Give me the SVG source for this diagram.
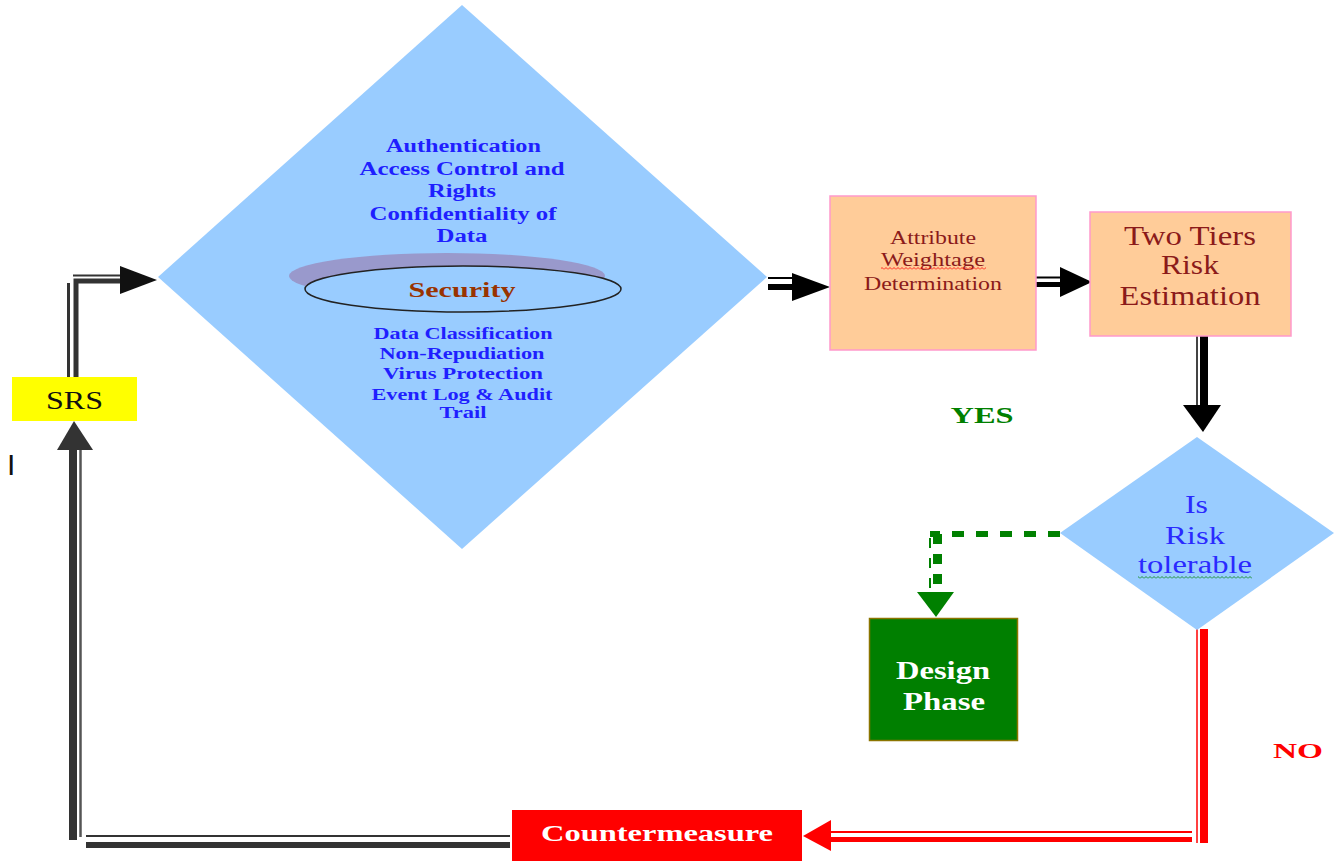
<svg xmlns="http://www.w3.org/2000/svg" width="1335" height="861" viewBox="0 0 1335 861">
<defs>
<style>
.t{font-family:"Liberation Serif","Times New Roman",serif;text-anchor:middle}
.b{font-weight:bold}
.blue{fill:#1f1fff}
.dred{fill:#8b1a1a}
.ln{fill:none}
</style>
<pattern id="wr" width="4" height="3" patternUnits="userSpaceOnUse"><path d="M0 2.5 L2 0.5 L4 2.5" fill="none" stroke="#ff0000" stroke-width="0.8"/></pattern>
<pattern id="wg" width="4" height="3" patternUnits="userSpaceOnUse"><path d="M0 2.5 L2 0.5 L4 2.5" fill="none" stroke="#008000" stroke-width="0.8"/></pattern>
</defs>
<rect width="1335" height="861" fill="#ffffff"/>

<g id="connectors">
  <!-- SRS -> Security -->
  <path class="ln" d="M68.5 377 V283" stroke="#333" stroke-width="3"/>
  <path class="ln" d="M76 377 V281 H122" stroke="#333" stroke-width="5"/>
  <path class="ln" d="M73 275.5 H122" stroke="#333" stroke-width="2"/>
  <polygon points="120,266 157,280 120,294" fill="#111"/>
  <!-- Security -> Attribute -->
  <path class="ln" d="M768 278 H795" stroke="#000" stroke-width="2"/>
  <path class="ln" d="M768 287 H795" stroke="#000" stroke-width="6"/>
  <polygon points="792,273 830,287 792,301" fill="#000"/>
  <!-- Attribute -> Two Tiers -->
  <path class="ln" d="M1036 277.5 H1062" stroke="#000" stroke-width="2"/>
  <path class="ln" d="M1036 284.5 H1062" stroke="#000" stroke-width="5"/>
  <polygon points="1060,267 1092,282 1060,297" fill="#000"/>
  <!-- Two Tiers -> Is Risk -->
  <path class="ln" d="M1197 336 V406" stroke="#444" stroke-width="2"/>
  <path class="ln" d="M1204 336 V406" stroke="#000" stroke-width="8"/>
  <polygon points="1183,405 1221,405 1203,432" fill="#000"/>
  <!-- YES: Is Risk -> Design Phase -->
  <path class="ln" d="M1060 534 H930" stroke="#008000" stroke-width="6" stroke-dasharray="12 12"/>
  <path class="ln" d="M930 538 V592" stroke="#008000" stroke-width="2" stroke-dasharray="10 10"/>
  <path class="ln" d="M937.5 534 V592" stroke="#008000" stroke-width="9" stroke-dasharray="10 10"/>
  <polygon points="917,592 954,592 936,617" fill="#008000"/>
  <!-- NO: Is Risk -> Countermeasure -->
  <path class="ln" d="M1197 629 V843" stroke="#ff4040" stroke-width="2"/>
  <path class="ln" d="M1204 629 V843" stroke="#ff0000" stroke-width="8"/>
  <path class="ln" d="M1192 832 H830" stroke="#ff0000" stroke-width="2"/>
  <path class="ln" d="M1192 839.5 H830" stroke="#ff0000" stroke-width="5"/>
  <polygon points="831,820 803,836 831,851" fill="#ff0000"/>
  <!-- Countermeasure -> SRS -->
  <path class="ln" d="M510 845 H86" stroke="#333" stroke-width="6"/>
  <path class="ln" d="M510 836 H86" stroke="#333" stroke-width="2"/>
  <path class="ln" d="M73 840 V449" stroke="#333" stroke-width="8"/>
  <path class="ln" d="M80.5 837 V449" stroke="#555" stroke-width="2.5"/>
  <polygon points="57,450 74,421 93,450" fill="#333"/>
</g>

<g id="srs">
  <rect x="12" y="377" width="125" height="44" fill="#ffff00"/>
  <text class="t" x="74.5" y="409" font-size="26" textLength="57" lengthAdjust="spacingAndGlyphs" fill="#111">SRS</text>
</g>

<g id="security">
  <polygon points="462,5 767,277 462,549 158,277" fill="#99ccff"/>
  <g class="t b blue" font-size="18">
    <text x="463.5" y="152" textLength="155" lengthAdjust="spacingAndGlyphs">Authentication</text>
    <text x="462" y="175" textLength="205" lengthAdjust="spacingAndGlyphs">Access Control and</text>
    <text x="462" y="197" textLength="68" lengthAdjust="spacingAndGlyphs">Rights</text>
    <text x="463" y="220" textLength="187" lengthAdjust="spacingAndGlyphs">Confidentiality of</text>
    <text x="462" y="242" textLength="51" lengthAdjust="spacingAndGlyphs">Data</text>
  </g>
  <ellipse cx="447" cy="276" rx="158" ry="23" fill="#9999cc"/>
  <ellipse cx="463" cy="289" rx="158" ry="23" fill="#99ccff" stroke="#222" stroke-width="1.5"/>
  <text class="t b" x="462" y="297" font-size="22" fill="#993300" textLength="107" lengthAdjust="spacingAndGlyphs">Security</text>
  <g class="t b blue" font-size="17">
    <text x="463" y="339" textLength="179" lengthAdjust="spacingAndGlyphs">Data Classification</text>
    <text x="462" y="359" textLength="165" lengthAdjust="spacingAndGlyphs">Non-Repudiation</text>
    <text x="463" y="379" textLength="160" lengthAdjust="spacingAndGlyphs">Virus Protection</text>
    <text x="462" y="400" textLength="181" lengthAdjust="spacingAndGlyphs">Event Log &amp; Audit</text>
    <text x="463" y="418" textLength="47" lengthAdjust="spacingAndGlyphs">Trail</text>
  </g>
</g>

<g id="attribute">
  <rect x="830" y="196" width="206" height="154" fill="#ffcc99" stroke="#ff99cc" stroke-width="1.5"/>
  <g class="t dred" font-size="19">
    <text x="933" y="244" textLength="86" lengthAdjust="spacingAndGlyphs">Attribute</text>
    <text x="933" y="266" textLength="104" lengthAdjust="spacingAndGlyphs">Weightage</text>
    <text x="933" y="290" textLength="138" lengthAdjust="spacingAndGlyphs">Determination</text>
  </g>
  <rect x="881" y="267" width="105" height="3" fill="url(#wr)"/>
</g>

<g id="two-tiers">
  <rect x="1090" y="212" width="201" height="124" fill="#ffcc99" stroke="#ff99cc" stroke-width="1.5"/>
  <g class="t dred" font-size="27">
    <text x="1190" y="245" textLength="132" lengthAdjust="spacingAndGlyphs">Two Tiers</text>
    <text x="1190" y="274" textLength="58" lengthAdjust="spacingAndGlyphs">Risk</text>
    <text x="1190" y="305" textLength="141" lengthAdjust="spacingAndGlyphs">Estimation</text>
  </g>
</g>

<g id="is-risk">
  <polygon points="1197,437 1334,533 1197,630 1060,533" fill="#99ccff"/>
  <g class="t" font-size="26" fill="#2a2aff">
    <text x="1196.5" y="513" textLength="23" lengthAdjust="spacingAndGlyphs">Is</text>
    <text x="1195" y="544" textLength="60" lengthAdjust="spacingAndGlyphs">Risk</text>
    <text x="1195" y="573" textLength="114" lengthAdjust="spacingAndGlyphs">tolerable</text>
  </g>
  <rect x="1138" y="576" width="114" height="3" fill="url(#wg)"/>
</g>

<g id="design-phase">
  <rect x="869.5" y="618.5" width="148" height="122" fill="#007f00" stroke="#8b7500" stroke-width="1.5"/>
  <g class="t b" font-size="26" fill="#ffffff">
    <text x="943" y="679" textLength="94" lengthAdjust="spacingAndGlyphs">Design</text>
    <text x="944" y="710" textLength="82" lengthAdjust="spacingAndGlyphs">Phase</text>
  </g>
</g>

<g id="countermeasure">
  <rect x="512" y="810" width="290" height="51" fill="#ff0000"/>
  <text class="t b" x="657" y="841" font-size="24" fill="#ffffff" textLength="232" lengthAdjust="spacingAndGlyphs">Countermeasure</text>
</g>

<g id="labels">
  <text class="t b" x="982" y="423" font-size="24" fill="#008000" textLength="63" lengthAdjust="spacingAndGlyphs">YES</text>
  <text class="t b" x="1298" y="758" font-size="22" fill="#ff0000" textLength="50" lengthAdjust="spacingAndGlyphs">NO</text>
  <text x="7" y="475" font-family="Liberation Sans, Arial, sans-serif" font-size="30" fill="#111">I</text>
</g>
</svg>
